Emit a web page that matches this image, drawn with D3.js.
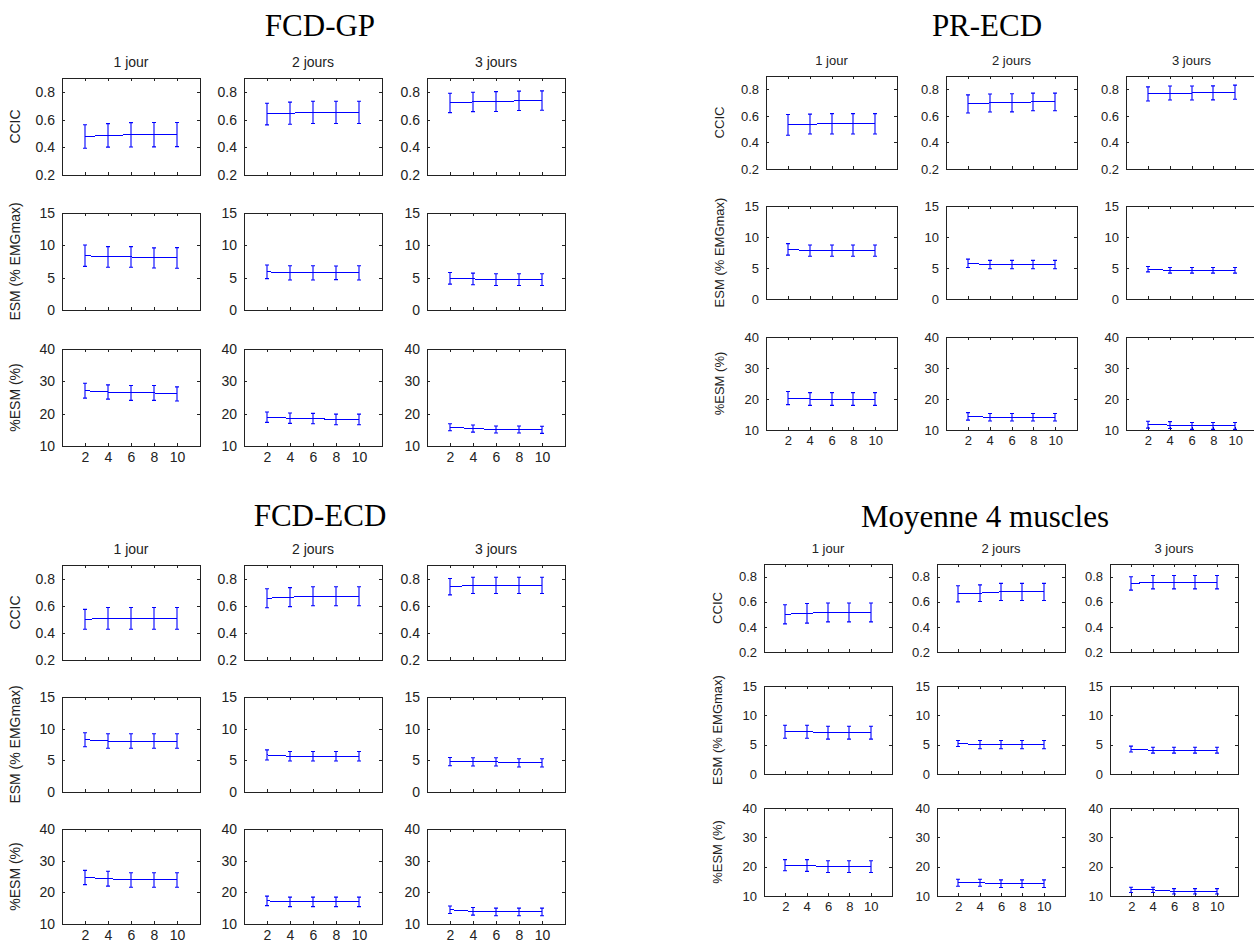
<!DOCTYPE html>
<html>
<head>
<meta charset="utf-8">
<style>
  body { margin: 0; background: #fff; }
  #chart text { font-family: "Liberation Sans", Arial, sans-serif; fill: #222; }
  #chart text.title { font-family: "Liberation Serif", "Times New Roman", serif; fill: #000; }
</style>
</head>
<body>
<svg id="chart" width="1254" height="942"></svg>
<script src="https://cdn.jsdelivr.net/npm/d3@7"></script>
<script>
  // categories
  var groups = ["FCD-GP", "PR-ECD", "FCD-ECD", "Moyenne 4 muscles"];
  var days = ["1 jour", "2 jours", "3 jours"];
  var measures = ["CCIC", "ESM (% EMGmax)", "%ESM (%)"];
  var xValues = [2, 4, 6, 8, 10];
  var xTicks = [2, 4, 6, 8, 10];
  var ccicTicks = [0.2, 0.4, 0.6, 0.8];
  var esmTicks = [0, 5, 10, 15];
  var pesmTicks = [10, 20, 30, 40];

  // means and half-widths, [measure][day][x]
  var fcdGpMean = [
    [[0.478, 0.486, 0.49, 0.491, 0.492], [0.64, 0.646, 0.652, 0.652, 0.652], [0.72, 0.727, 0.73, 0.735, 0.737]],
    [[8.4, 8.2, 8.2, 8.05, 8.05], [5.9, 5.75, 5.75, 5.75, 5.75], [4.9, 4.8, 4.7, 4.7, 4.7]],
    [[27.1, 26.7, 26.4, 26.4, 26.1], [18.9, 18.6, 18.5, 18.2, 18.2], [15.8, 15.4, 15.1, 15.1, 15.0]]
  ];
  var fcdGpErr = [
    [[0.085, 0.085, 0.088, 0.088, 0.087], [0.078, 0.08, 0.08, 0.08, 0.08], [0.07, 0.07, 0.072, 0.07, 0.07]],
    [[1.65, 1.6, 1.6, 1.55, 1.6], [1.05, 1.1, 1.1, 1.05, 1.1], [0.9, 0.9, 0.9, 0.9, 0.9]],
    [[2.3, 2.2, 2.3, 2.3, 2.2], [1.6, 1.6, 1.6, 1.65, 1.65], [1.1, 1.1, 1.1, 1.1, 1.1]]
  ];
  var prEcdMean = [
    [[0.532, 0.538, 0.54, 0.54, 0.54], [0.69, 0.697, 0.698, 0.705, 0.705], [0.765, 0.772, 0.772, 0.773, 0.778]],
    [[8.0, 7.8, 7.8, 7.8, 7.8], [5.75, 5.55, 5.55, 5.55, 5.55], [4.8, 4.62, 4.62, 4.62, 4.62]],
    [[20.3, 20, 20, 20, 20], [14.4, 14.1, 14.1, 14.1, 14.1], [11.7, 11.6, 11.3, 11.3, 11.3]]
  ];
  var prEcdErr = [
    [[0.078, 0.075, 0.077, 0.077, 0.077], [0.068, 0.068, 0.068, 0.066, 0.066], [0.053, 0.053, 0.053, 0.053, 0.053]],
    [[0.93, 0.9, 0.9, 0.9, 0.9], [0.68, 0.68, 0.68, 0.68, 0.68], [0.43, 0.45, 0.45, 0.45, 0.45]],
    [[2.1, 2.05, 2.05, 2.05, 2.05], [1.2, 1.2, 1.2, 1.2, 1.2], [1.1, 1.1, 1.1, 1.1, 1.1]]
  ];
  var fcdEcdMean = [
    [[0.5, 0.507, 0.507, 0.507, 0.507], [0.655, 0.663, 0.67, 0.67, 0.67], [0.74, 0.75, 0.75, 0.75, 0.75]],
    [[8.25, 8.05, 8.05, 8.05, 8.05], [5.85, 5.65, 5.65, 5.65, 5.65], [4.8, 4.75, 4.75, 4.6, 4.6]],
    [[24.7, 24.3, 23.9, 23.9, 23.9], [17.3, 17.0, 17.0, 17.0, 17.0], [14.5, 14.0, 13.8, 13.8, 13.8]]
  ];
  var fcdEcdErr = [
    [[0.073, 0.08, 0.08, 0.08, 0.08], [0.07, 0.07, 0.07, 0.07, 0.07], [0.06, 0.06, 0.06, 0.06, 0.06]],
    [[1.1, 1.15, 1.15, 1.15, 1.15], [0.8, 0.75, 0.75, 0.75, 0.75], [0.65, 0.65, 0.65, 0.65, 0.65]],
    [[2.25, 2.35, 2.3, 2.3, 2.3], [1.5, 1.5, 1.5, 1.5, 1.5], [1.2, 1.2, 1.2, 1.2, 1.2]]
  ];
  var moyMean = [
    [[0.5, 0.508, 0.515, 0.515, 0.515], [0.663, 0.668, 0.678, 0.678, 0.678], [0.745, 0.755, 0.755, 0.755, 0.755]],
    [[7.2, 7.2, 7.05, 7.05, 7.05], [5.2, 5.0, 5.0, 5.0, 5.0], [4.25, 4.05, 4.05, 4.05, 4.05]],
    [[20.5, 20.4, 20.0, 20.0, 20.0], [14.5, 14.5, 14.2, 14.2, 14.2], [12.1, 12.1, 11.6, 11.6, 11.6]]
  ];
  var moyErr = [
    [[0.076, 0.078, 0.075, 0.075, 0.075], [0.064, 0.066, 0.068, 0.068, 0.068], [0.053, 0.053, 0.053, 0.053, 0.053]],
    [[1.1, 1.1, 1.1, 1.1, 1.1], [0.5, 0.7, 0.7, 0.7, 0.7], [0.5, 0.5, 0.5, 0.5, 0.5]],
    [[1.9, 2.0, 2.0, 2.0, 2.0], [1.2, 1.2, 1.3, 1.3, 1.3], [0.9, 0.9, 0.9, 0.9, 0.9]]
  ];

  var means = [fcdGpMean, prEcdMean, fcdEcdMean, moyMean];
  var errs = [fcdGpErr, prEcdErr, fcdEcdErr, moyErr];
  var yTicks = [ccicTicks, esmTicks, pesmTicks];
  var yDomains = [[0.2, 0.9], [0, 15], [10, 40]];
  var blue = "#0000ff";

  // where each block of 3x3 sits on the page
  var layout = [
    { tx: 320, ty: 36, colX: [62, 244, 427], w: 138, rowY: [78, 213, 349], h: 97, fs: 14 },
    { tx: 987, ty: 36, colX: [766, 946, 1126], w: 131, rowY: [76, 206, 337], h: 93, fs: 13 },
    { tx: 320, ty: 526, colX: [62, 244, 427], w: 138, rowY: [565, 697, 829], h: 95, fs: 14 },
    { tx: 985, ty: 527, colX: [764, 937, 1110], w: 128, rowY: [564, 686, 808], h: 88, fs: 13 }
  ];

  var svg = d3.select("#chart");

  groups.forEach(function(name, gi) {
    var L = layout[gi];
    var g = svg.append("g");

    g.append("text")
      .attr("class", "title")
      .attr("x", L.tx)
      .attr("y", L.ty)
      .attr("text-anchor", "middle")
      .style("font-size", "31px")
      .text(name);

    days.forEach(function(day, di) {
      g.append("text")
        .attr("x", L.colX[di] + L.w / 2)
        .attr("y", L.rowY[0] - 11)
        .attr("text-anchor", "middle")
        .style("font-size", L.fs + "px")
        .text(day);

      measures.forEach(function(meas, mi) {
        drawPanel(g, L, gi, di, mi);
      });
    });

    measures.forEach(function(meas, mi) {
      g.append("text")
        .attr("transform", "translate(" + (L.colX[0] - 42) + "," + (L.rowY[mi] + L.h / 2) + ") rotate(-90)")
        .attr("text-anchor", "middle")
        .style("font-size", L.fs + "px")
        .text(meas);
    });
  });

  function drawPanel(g, L, gi, di, mi) {
    var x0 = L.colX[di], y0 = L.rowY[mi];
    var x = d3.scaleLinear().domain([0, 12]).range([x0, x0 + L.w]);
    var y = d3.scaleLinear().domain(yDomains[mi]).range([y0 + L.h, y0]);
    var p = g.append("g");

    var aLeft = p.append("g").attr("transform", "translate(" + x0 + ",0)")
      .call(d3.axisLeft(y).tickValues(yTicks[mi]).tickSize(-3).tickPadding(7).tickFormat(d3.format("")));
    var aRight = p.append("g").attr("transform", "translate(" + (x0 + L.w) + ",0)")
      .call(d3.axisRight(y).tickValues(yTicks[mi]).tickSize(-3).tickFormat(""));
    var aTop = p.append("g").attr("transform", "translate(0," + y0 + ")")
      .call(d3.axisTop(x).tickValues(xTicks).tickSize(-3).tickFormat(""));
    var aBottom = p.append("g").attr("transform", "translate(0," + (y0 + L.h) + ")")
      .call(d3.axisBottom(x).tickValues(xTicks).tickSize(-3).tickPadding(6)
        .tickFormat(mi === 2 ? d3.format("") : ""));

    [aLeft, aRight, aTop, aBottom].forEach(function(a) {
      a.select(".domain").remove();
      a.selectAll("line").attr("stroke", "#222").attr("shape-rendering", "crispEdges");
      a.selectAll("text").attr("fill", "#222").style("font-size", L.fs + "px")
        .attr("font-family", null);
    });

    p.append("rect")
      .attr("x", x0).attr("y", y0)
      .attr("width", L.w).attr("height", L.h)
      .attr("fill", "none")
      .attr("stroke", "#222")
      .attr("shape-rendering", "crispEdges");

    var m = means[gi][mi][di], e = errs[gi][mi][di];
    var pts = xValues.map(function(v, i) { return { x: v, m: m[i], e: e[i] }; });

    p.append("path")
      .datum(pts)
      .attr("fill", "none")
      .attr("stroke", blue)
      .attr("stroke-width", 1)
      .attr("shape-rendering", "crispEdges")
      .attr("d", d3.line().x(function(d) { return x(d.x); }).y(function(d) { return y(d.m); }));

    // error bars drawn as one path each: cap, vertical, cap
    p.selectAll("path.bar").data(pts).enter().append("path")
      .attr("class", "bar")
      .attr("fill", "none")
      .attr("stroke", blue)
      .attr("stroke-width", 1.1)
      .attr("d", function(d) {
        var cx = Math.round(x(d.x)), lo = y(d.m - d.e), hi = y(d.m + d.e);
        return "M" + (cx - 2) + "," + hi + "H" + (cx + 2) + "M" + cx + "," + hi + "V" + lo +
          "M" + (cx - 2) + "," + lo + "H" + (cx + 2);
      });
  }
</script>
</body>
</html>
